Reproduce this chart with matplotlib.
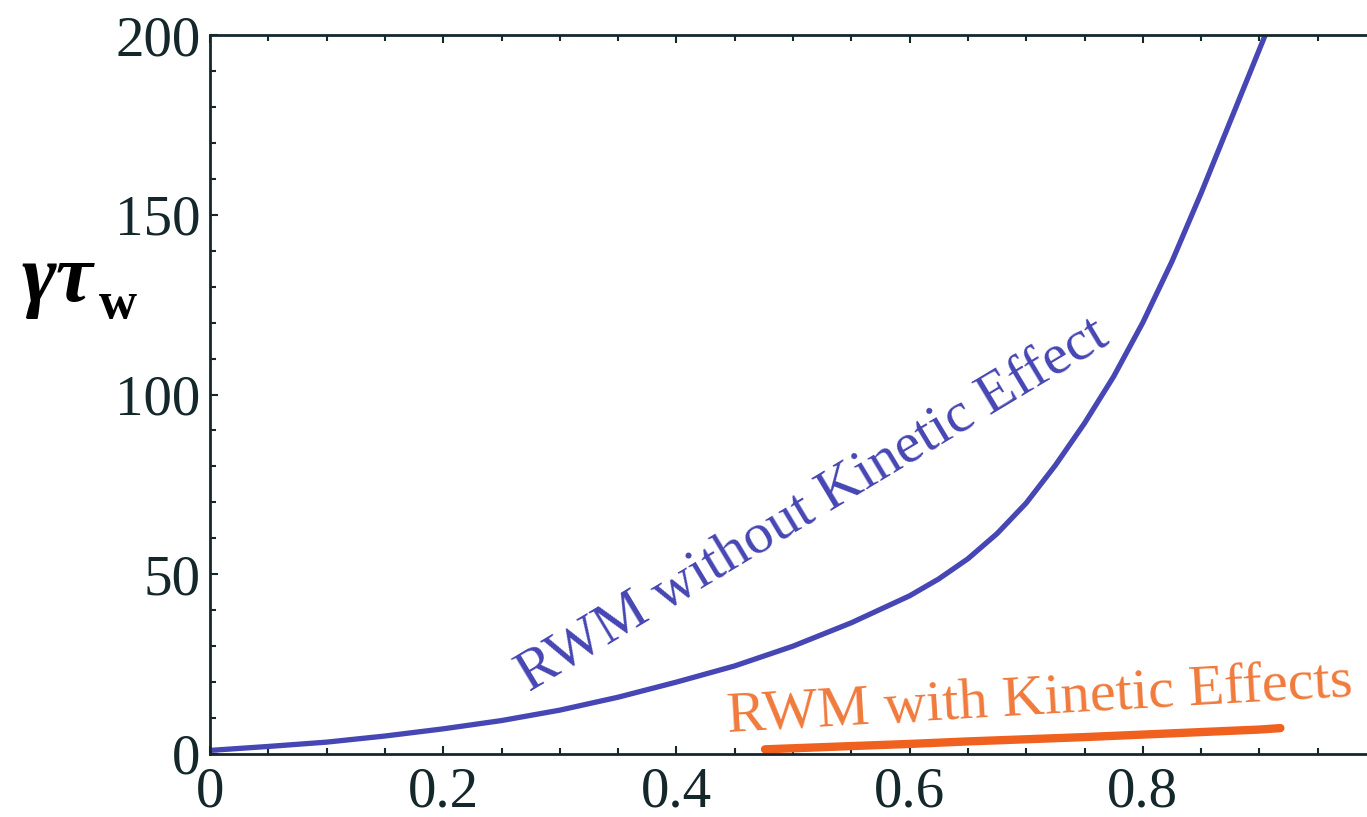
import matplotlib
matplotlib.use("Agg")
import matplotlib.pyplot as plt
from matplotlib.ticker import MultipleLocator, FuncFormatter

# growth rate of the resistive wall mode
x_no_kinetic = [0, 0.05, 0.1, 0.15, 0.2, 0.25, 0.3, 0.35, 0.4, 0.45, 0.5,
                0.55, 0.6, 0.625, 0.65, 0.675, 0.7, 0.725, 0.75, 0.775,
                0.8, 0.825, 0.85, 0.875, 0.9, 0.905]
y_no_kinetic = [1.0, 2.1, 3.3, 5.0, 7.0, 9.3, 12.2, 15.8, 20, 24.5, 30,
                36.5, 44, 48.7, 54.3, 61.3, 69.8, 80.3, 92, 105,
                120, 137, 156, 176, 196, 200]

x_kinetic = [0.476, 0.55, 0.6, 0.65, 0.7, 0.75, 0.8, 0.85, 0.9, 0.918]
y_kinetic = [1.3, 2.2, 2.8, 3.5, 4.1, 4.7, 5.4, 6.1, 6.8, 7.2]

x_ticks = [0, 0.2, 0.4, 0.6, 0.8]
y_ticks = [0, 50, 100, 150, 200]

label_no_kinetic = "RWM without Kinetic Effect"
label_kinetic = "RWM with Kinetic Effects"

W, H = 1367, 817
fig = plt.figure(figsize=(W / 100, H / 100), dpi=100)
fig.patch.set_facecolor("white")

# axes box: x from px 210 (x=0) to px 1376 (x=1), y from px 754 (0) to 35 (200)
ax = fig.add_axes([210 / W, (H - 754) / H, 1166 / W, (754 - 35) / H])
ax.set_xlim(0, 1)
ax.set_ylim(0, 200)

blue = "#4646b4"
orange = "#f0601e"
dark = "#14282c"
serif = "Liberation Serif"

ax.plot(x_no_kinetic, y_no_kinetic, color=blue, lw=3.8,
        solid_capstyle="butt", solid_joinstyle="round")
ax.plot(x_kinetic, y_kinetic, color=orange, lw=6, solid_capstyle="round")

ax.text(0.274, 17.2, label_no_kinetic, color=blue, fontsize=42, family=serif,
        rotation=31, rotation_mode="anchor", ha="left", va="baseline")
ax.text(0.444, 6.1, label_kinetic, color="#f07a3c", fontsize=42, family=serif,
        rotation=3.3, rotation_mode="anchor", ha="left", va="baseline")

ax.set_xticks(x_ticks)
ax.set_yticks(y_ticks)
ax.xaxis.set_minor_locator(MultipleLocator(0.05))
ax.yaxis.set_minor_locator(MultipleLocator(10))
ax.xaxis.set_major_formatter(FuncFormatter(lambda v, p: "0" if v == 0 else f"{v:g}"))

ax.tick_params(which="both", direction="in", top=True, right=True,
               color=dark, width=1.5)
ax.tick_params(which="major", length=6)
ax.tick_params(which="minor", length=4)
ax.tick_params(axis="y", pad=7, labelsize=41, labelcolor=dark)
ax.tick_params(axis="x", pad=9, labelsize=41, labelcolor=dark)
for lab in ax.get_xticklabels() + ax.get_yticklabels():
    lab.set_family(serif)

for s in ax.spines.values():
    s.set_color(dark)
    s.set_linewidth(2)

# y label: bold italic gamma tau with bold subscript w
fig.text(22 / W, 1 - 301 / H, "γτ", fontsize=60, family=serif,
         fontweight="bold", style="italic", ha="left", va="baseline", color="black")
fig.text(99 / W, 1 - 318 / H, "w", fontsize=38, family=serif,
         fontweight="bold", ha="left", va="baseline", color="black")

fig.savefig("out.png", dpi=100, facecolor="white")
